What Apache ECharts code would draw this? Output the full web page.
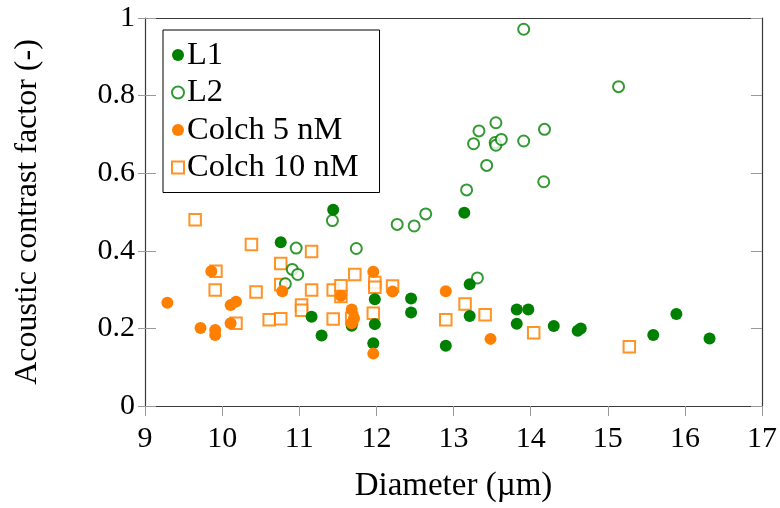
<!DOCTYPE html>
<html>
<head>
<meta charset="utf-8">
<script src="https://cdn.jsdelivr.net/npm/echarts@6/dist/echarts.min.js"></script>
<style>
  html, body { margin: 0; padding: 0; background: #fff; }
  #chart { width: 780px; height: 508px; }
</style>
</head>
<body>
<div id="chart"></div>
<script>
// Diameter (µm) and acoustic contrast factor for each cell group
const l1X = [10.76, 11.16, 11.29, 11.44, 11.68, 11.96, 11.98, 11.98, 12.45, 12.45, 12.90, 13.14, 13.21, 13.21, 13.82, 13.97, 13.82, 14.30, 14.61, 14.65, 15.59, 15.89, 16.32];
const l1Y = [0.422, 0.230, 0.182, 0.506, 0.207, 0.162, 0.275, 0.211, 0.277, 0.241, 0.155, 0.498, 0.314, 0.232, 0.249, 0.249, 0.212, 0.206, 0.194, 0.200, 0.183, 0.237, 0.174];

const l2X = [10.82, 10.91, 10.98, 10.96, 11.43, 11.74, 12.27, 12.49, 12.64, 13.17, 13.31, 13.26, 13.33, 13.43, 13.55, 13.54, 13.55, 13.62, 13.91, 13.91, 14.17, 14.18, 15.14];
const l2Y = [0.315, 0.352, 0.339, 0.407, 0.478, 0.406, 0.468, 0.464, 0.495, 0.557, 0.330, 0.676, 0.709, 0.620, 0.730, 0.679, 0.672, 0.687, 0.683, 0.971, 0.578, 0.713, 0.823];

const c5X = [9.29, 9.72, 9.86, 9.91, 9.91, 10.11, 10.18, 10.11, 10.78, 11.54, 11.68, 11.71, 11.68, 11.96, 11.96, 12.21, 12.90, 13.48];
const c5Y = [0.266, 0.201, 0.347, 0.196, 0.183, 0.260, 0.269, 0.213, 0.296, 0.284, 0.249, 0.226, 0.213, 0.346, 0.135, 0.295, 0.296, 0.173];

const c10X = [9.65, 9.92, 9.91, 10.18, 10.38, 10.44, 10.61, 10.76, 10.76, 10.76, 11.03, 11.03, 11.16, 11.16, 11.44, 11.44, 11.54, 11.54, 11.72, 11.68, 11.96, 11.98, 11.98, 12.21, 12.90, 13.15, 13.41, 14.04, 15.28];
const c10Y = [0.480, 0.347, 0.299, 0.213, 0.416, 0.294, 0.222, 0.367, 0.313, 0.225, 0.260, 0.247, 0.398, 0.299, 0.299, 0.224, 0.310, 0.282, 0.339, 0.226, 0.239, 0.318, 0.306, 0.309, 0.222, 0.263, 0.235, 0.189, 0.153];

const seriesNames = ['L1', 'L2', 'Colch 5 nM', 'Colch 10 nM'];
const xTicks = [9, 10, 11, 12, 13, 14, 15, 16, 17];
const yTicks = [0, 0.2, 0.4, 0.6, 0.8, 1];

const pairs = (xs, ys) => xs.map((x, i) => [x, ys[i]]);

const GREEN = '#008000';
const ORANGE = '#ff8000';
const FONT = 'Liberation Serif';

const chart = echarts.init(document.getElementById('chart'), null, { renderer: 'canvas' });

const grid = { left: 145, right: 17, top: 18, bottom: 99 };

const tickGray = '#9a9a9a';
const frame = '#3a3a3a';

chart.setOption({
  animation: false,
  backgroundColor: '#fff',
  grid: grid,
  legend: {
    orient: 'vertical',
    left: 163,
    top: 30,
    padding: [8, 21, 8, 8],
    itemGap: 3.5,
    itemWidth: 12,
    itemHeight: 12,
    backgroundColor: '#fff',
    borderColor: '#000',
    borderWidth: 1,
    borderRadius: 0,
    textStyle: { fontFamily: FONT, fontSize: 32.5, color: '#000', lineHeight: 34, padding: [0, 0, 0, -2] },
    data: seriesNames
  },
  xAxis: [{
    type: 'value',
    min: xTicks[0],
    max: xTicks[xTicks.length - 1],
    interval: 1,
    position: 'bottom',
    name: 'Diameter (µm)',
    nameLocation: 'middle',
    nameGap: 64,
    nameTextStyle: { fontFamily: FONT, fontSize: 33, color: '#000' },
    axisLine: { show: true, onZero: false, lineStyle: { color: frame, width: 1.2 } },
    axisTick: { show: true, inside: false, length: 10, lineStyle: { color: tickGray } },
    axisLabel: { fontFamily: FONT, fontSize: 30, color: '#000', margin: 18 },
    splitLine: { show: false }
  }, {
    type: 'value',
    min: xTicks[0],
    max: xTicks[xTicks.length - 1],
    interval: 1,
    position: 'top',
    axisLine: { show: true, onZero: false, lineStyle: { color: frame, width: 1.2 } },
    axisTick: { show: false },
    axisLabel: { show: false },
    splitLine: { show: false }
  }],
  yAxis: [{
    type: 'value',
    min: yTicks[0],
    max: yTicks[yTicks.length - 1],
    interval: 0.2,
    position: 'left',
    name: 'Acoustic contrast factor (-)',
    nameLocation: 'middle',
    nameGap: 101,
    nameTextStyle: { fontFamily: FONT, fontSize: 32, color: '#000' },
    axisLine: { show: true, onZero: false, lineStyle: { color: frame, width: 1.2 } },
    axisTick: { show: true, inside: false, length: 7, lineStyle: { color: tickGray } },
    axisLabel: { fontFamily: FONT, fontSize: 30, color: '#000', margin: 10 },
    splitLine: { show: false }
  }, {
    type: 'value',
    min: yTicks[0],
    max: yTicks[yTicks.length - 1],
    interval: 0.2,
    position: 'left',
    axisLine: { show: false },
    axisTick: { show: true, inside: true, length: 11, lineStyle: { color: tickGray } },
    axisLabel: { show: false },
    splitLine: { show: false }
  }, {
    type: 'value',
    min: yTicks[0],
    max: yTicks[yTicks.length - 1],
    interval: 0.2,
    position: 'right',
    axisLine: { show: true, onZero: false, lineStyle: { color: frame, width: 1.2 } },
    axisTick: { show: true, inside: true, length: 11, lineStyle: { color: tickGray } },
    axisLabel: { show: false },
    splitLine: { show: false }
  }],
  series: [{
    name: seriesNames[0],
    type: 'scatter',
    symbol: 'circle',
    symbolSize: 12,
    itemStyle: { color: GREEN, opacity: 1 },
    data: pairs(l1X, l1Y),
    z: 3
  }, {
    name: seriesNames[1],
    type: 'scatter',
    symbol: 'emptyCircle',
    symbolSize: 11,
    itemStyle: { color: GREEN, borderColor: GREEN, borderWidth: 1.1 },
    data: pairs(l2X, l2Y),
    z: 2
  }, {
    name: seriesNames[2],
    type: 'scatter',
    symbol: 'circle',
    symbolSize: 12,
    itemStyle: { color: ORANGE, opacity: 1 },
    data: pairs(c5X, c5Y),
    z: 4
  }, {
    name: seriesNames[3],
    type: 'scatter',
    symbol: 'emptyRect',
    symbolSize: 11.5,
    itemStyle: { color: ORANGE, borderColor: ORANGE, borderWidth: 1.4, opacity: 0.85 },
    data: pairs(c10X, c10Y),
    z: 1
  }]
});
</script>
</body>
</html>
